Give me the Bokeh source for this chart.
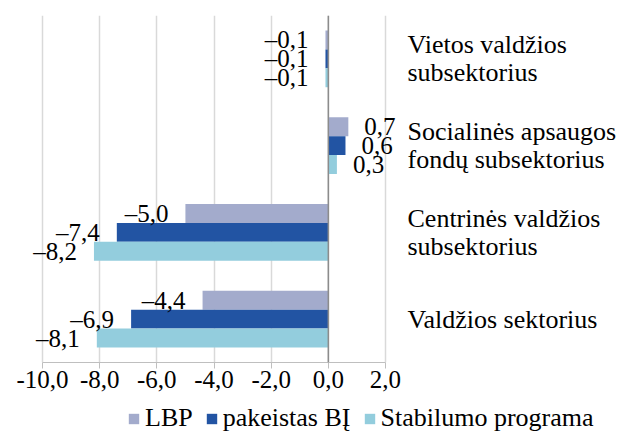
from bokeh.plotting import figure
from bokeh.layouts import column, row
from bokeh.models import (ColumnDataSource, Range1d, LabelSet, Legend, LegendItem,
                          FixedTicker, CustomJSTickFormatter, Span, LinearAxis, Spacer)
from bokeh.transform import dodge
from bokeh.embed import file_html
from bokeh.resources import INLINE

# ---- data (categories listed top to bottom as in the chart) ----
categories = ["Vietos valdžios subsektorius",
              "Socialinės apsaugos fondų subsektorius",
              "Centrinės valdžios subsektorius",
              "Valdžios sektorius"]
category_lines = [["Vietos valdžios", "subsektorius"],
                  ["Socialinės apsaugos", "fondų subsektorius"],
                  ["Centrinės valdžios", "subsektorius"],
                  ["Valdžios sektorius"]]
series_names = ["LBP", "pakeistas BĮ", "Stabilumo programa"]
lbp = [-0.1, 0.7, -5.0, -4.4]
pakeistas_bi = [-0.1, 0.6, -7.4, -6.9]
stabilumo = [-0.1, 0.3, -8.2, -8.1]
x_ticks = [-10, -8, -6, -4, -2, 0, 2]

colors = ["#A3ABCC", "#2254A3", "#93CDDD"]
offsets = [0.219, 0.0, -0.219]
FONT = "'Liberation Serif', serif"

def fmt(v):
    s = f"{abs(v):.1f}".replace(".", ",")
    return ("\u2013" + s) if v < 0 else s

n_cat = len(categories)
cat_pos = [n_cat - i - 0.5 for i in range(n_cat)]   # category band centres, top to bottom

p = figure(width=622, height=399, output_backend="svg", toolbar_location=None,
           x_range=(-10.56, 2.42), y_range=Range1d(0, n_cat),
           y_axis_location=None,
           min_border_left=26, min_border_right=225, min_border_top=15, min_border_bottom=37)
p.outline_line_color = None
p.background_fill_color = "white"
p.border_fill_color = "white"

values = [lbp, pakeistas_bi, stabilumo]
for name, vals, col, off in zip(series_names, values, colors, offsets):
    src = ColumnDataSource(dict(pos=cat_pos, v=vals))
    p.hbar(y=dodge("pos", off), right="v", left=0, height=0.219,
           source=src, fill_color=col, line_color=None)
    neg = ColumnDataSource(dict(pos=[c for c, v in zip(cat_pos, vals) if v < 0],
                                v=[v for v in vals if v < 0],
                                lbl=[fmt(v) for v in vals if v < 0]))
    pos = ColumnDataSource(dict(pos=[c for c, v in zip(cat_pos, vals) if v >= 0],
                                v=[v for v in vals if v >= 0],
                                lbl=[fmt(v) for v in vals if v >= 0]))
    for s, align, xo in ((neg, "right", -17), (pos, "left", 16)):
        p.add_layout(LabelSet(x="v", y=dodge("pos", off), text="lbl",
                              source=s, text_align=align, text_baseline="middle",
                              x_offset=xo, text_font=FONT, text_font_size="25px",
                              text_color="black"))

# category labels: a right-hand axis, one tick per text line
line_pos, line_txt = [], []
for center, lines in zip(cat_pos, category_lines):
    n = len(lines)
    for i, ln in enumerate(lines):
        line_pos.append(center + 0.161 * (n - 1) - 0.322 * i)
        line_txt.append(ln)
cat_axis = LinearAxis(ticker=FixedTicker(ticks=line_pos),
                      formatter=CustomJSTickFormatter(
                          args=dict(pos=line_pos, labs=line_txt),
                          code="const k = pos.findIndex(q => Math.abs(q - tick) < 1e-6);"
                               "return k >= 0 ? labs[k] : '';"))
cat_axis.axis_line_color = None
cat_axis.major_tick_line_color = None
cat_axis.minor_tick_line_color = None
cat_axis.major_tick_out = 0
cat_axis.major_tick_in = 0
cat_axis.major_label_standoff = 10
cat_axis.major_label_text_font = FONT
cat_axis.major_label_text_font_size = "26px"
cat_axis.major_label_text_color = "black"
p.add_layout(cat_axis, "right")

p.add_layout(Span(location=0, dimension="height", line_color="#8C8C8C", line_width=1.5))

# x axis
xa = p.xaxis[0]
xa.bounds = (x_ticks[0], x_ticks[-1])
xa.ticker = FixedTicker(ticks=x_ticks)
xa.formatter = CustomJSTickFormatter(code="return tick.toFixed(1).replace('.', ',');")
xa.axis_line_color = "#BFBFBF"
xa.major_tick_line_color = "#BFBFBF"
xa.major_tick_out = 6
xa.major_tick_in = 0
xa.minor_tick_line_color = None
xa.major_label_standoff = 2
xa.major_label_text_font = FONT
xa.major_label_text_font_size = "25px"
xa.major_label_text_color = "black"

p.xgrid.grid_line_color = "#D9D9D9"
p.xgrid.grid_line_width = 1.5
p.ygrid.grid_line_color = None

# legend strip below the chart (swatches take the same series colours)
lf = figure(width=495, height=34, output_backend="svg", toolbar_location=None,
            x_range=(0, 1), y_range=(0, 1), x_axis_location=None, y_axis_location=None,
            min_border=0)
lf.outline_line_color = None
lf.xgrid.grid_line_color = None
lf.ygrid.grid_line_color = None
items = []
for name, col in zip(series_names, colors):
    r = lf.hbar(y=[float("nan")], right=[float("nan")], left=0, height=0.5,
                fill_color=col, line_color=None)
    items.append(LegendItem(label=name, renderers=[r]))
legend = Legend(items=items, orientation="horizontal", location="bottom_left",
                glyph_width=13, glyph_height=13, label_standoff=5, spacing=12,
                padding=0, margin=0, border_line_color=None, background_fill_alpha=0,
                label_text_font=FONT, label_text_font_size="26px", label_text_color="black")
lf.add_layout(legend, "center")

layout = column(p, row(Spacer(width=127, height=34), lf, spacing=0), spacing=0)
open("out.html", "w").write(file_html(layout, INLINE))
